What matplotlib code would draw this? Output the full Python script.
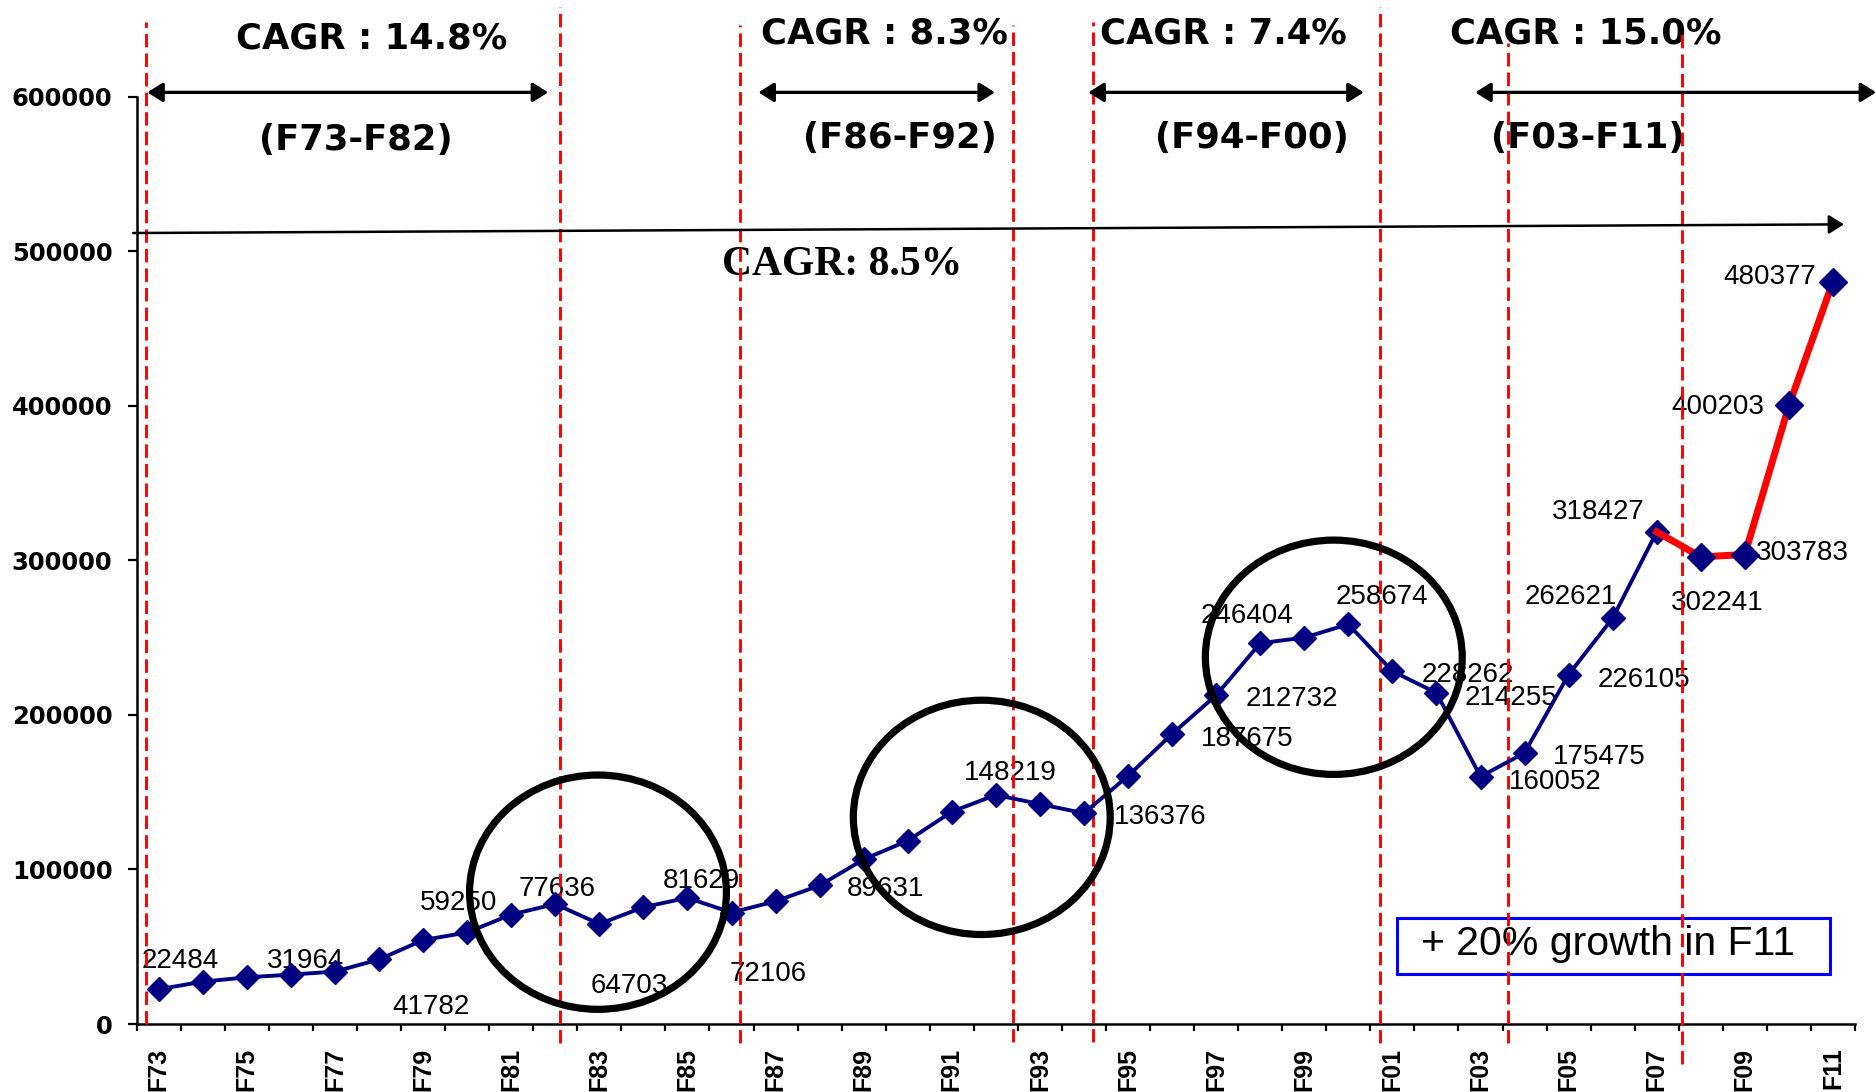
import matplotlib
matplotlib.use('Agg')
import matplotlib.pyplot as plt
from matplotlib.patches import Ellipse, Rectangle
import numpy as np

years = ['F73', 'F74', 'F75', 'F76', 'F77', 'F78', 'F79', 'F80', 'F81', 'F82',
         'F83', 'F84', 'F85', 'F86', 'F87', 'F88', 'F89', 'F90', 'F91', 'F92',
         'F93', 'F94', 'F95', 'F96', 'F97', 'F98', 'F99', 'F00', 'F01', 'F02',
         'F03', 'F04', 'F05', 'F06', 'F07', 'F08', 'F09', 'F10', 'F11']
sales = [22484, 27400, 30200, 31964, 33900, 41782, 54300, 59250, 70800, 77636,
         64703, 75600, 81629, 72106, 79400, 89631, 106500, 118600, 137400, 148219,
         142300, 136376, 160500, 187675, 212732, 246404, 250000, 258674, 228262, 214255,
         160052, 175475, 226105, 262621, 318427, 302241, 303783, 400203, 480377]

# which points get their number written next to them, and the shift in pixels
label_idx = [0, 3, 5, 7, 9, 10, 12, 13, 15, 19, 21, 23, 24, 25, 27, 28, 29,
             30, 31, 32, 33, 34, 35, 36, 37, 38]
label_off = [(22, 28), (15, 14), (52, -48), (-9, 29), (2, 15), (30, -62),
             (14, 17), (37, -61), (66, -4), (14, 22), (76, -4), (75, -5),
             (76, -4), (-13, 27), (34, 27), (75, -4), (75, -5), (75, -5),
             (75, -4), (75, -5), (-42, 21), (-58, 20), (16, -46), (57, 2),
             (-71, -2), (-63, 5)]

period_names = ['(F73-F82)', '(F86-F92)', '(F94-F00)', '(F03-F11)']
period_cagr = ['CAGR : 14.8%', 'CAGR : 8.3%', 'CAGR : 7.4%', 'CAGR : 15.0%']
overall_cagr = 'CAGR: 8.5%'
note = '+ 20% growth in F11'

# layout of the period markers
split_x = [-0.3, 9.1, 13.2, 19.4, 21.2, 27.73, 30.63, 34.58]
split_top = [648500, 658200, 646400, 646400, 648500, 658200, 634700, 641800]
split_bot = [0, -12000, -12000, -11400, -11400, -12000, -12000, -25700]
span_x = [(-0.26, 8.84), (13.61, 18.98), (21.1, 27.35), (29.88, 38.98)]
span_y = 602800
cagr_pos = [(4.83, 631300), (16.48, 634500), (24.16, 634500), (32.38, 634500)]
name_pos = [(4.48, 565500), (16.82, 566600), (24.80, 566600), (32.44, 566600)]
ring_xy = [(9.97, 85300), (18.68, 133700), (26.67, 237300)]

navy = '#000080'

fig = plt.figure(figsize=(18.76, 10.92), dpi=100)
ax = fig.add_axes([0.07287, 0.06227, 0.91594, 0.93773])
x = np.arange(len(years))

ax.plot(x[:35], sales[:35], color=navy, lw=2.8, marker='D', ms=12,
        mfc=navy, mec=navy, zorder=4)
ax.plot(x[34:], sales[34:], color='red', lw=5, zorder=4)
ax.plot(x[35:], sales[35:], ls='none', marker='D', ms=14, mfc=navy,
        mec=navy, zorder=5)

for i, (dx, dy) in zip(label_idx, label_off):
    ax.annotate(str(sales[i]), (x[i], sales[i]), xytext=(dx, dy),
                textcoords='offset pixels', ha='center', va='center',
                fontsize=20, family='Liberation Sans', zorder=3)

# period boundaries
for sx, top, bot in zip(split_x, split_top, split_bot):
    ax.plot([sx, sx], [bot, top], color='red', lw=2.1, ls=(0, (4.6, 2.1)),
            clip_on=False, zorder=3.5)

for (x0, x1), name, cagr, npos, cpos in zip(span_x, period_names, period_cagr,
                                            name_pos, cagr_pos):
    ax.annotate('', xy=(x1, span_y), xytext=(x0, span_y),
                arrowprops=dict(arrowstyle='<|-|>,head_length=0.4,head_width=0.25',
                                color='black', lw=2.4, mutation_scale=23,
                                shrinkA=0, shrinkB=0),
                annotation_clip=False, zorder=3.6)
    ax.text(*cpos, cagr, ha='center', va='baseline', fontsize=25.5,
            fontweight='bold', family='DejaVu Sans')
    ax.text(*npos, name, ha='center', va='baseline', fontsize=25.5,
            fontweight='bold', family='DejaVu Sans')

# whole-period trend arrow
ax.annotate('', xy=(38.25, 517400), xytext=(-0.58, 511800),
            arrowprops=dict(arrowstyle='-|>,head_length=0.4,head_width=0.25',
                            color='black', lw=1.8, mutation_scale=23,
                            shrinkA=0, shrinkB=0),
            annotation_clip=False, zorder=3.6)
ax.text(15.5, 484600, overall_cagr, ha='center', va='baseline', fontsize=30,
        fontweight='bold', family='Liberation Serif')

for cx, cy in ring_xy:
    ax.add_patch(Ellipse((cx, cy), 5.83, 151600, fill=False, ec='black',
                         lw=5.2, clip_on=False, zorder=5))

ax.add_patch(Rectangle((28.10, 32300), 9.83, 36100, fill=False, ec='#0000FF',
                       lw=2.2, clip_on=False, zorder=3))
ax.text(32.89, 44600, note, ha='center', va='baseline', fontsize=29.5,
        family='Liberation Sans')

ax.set_xlim(-0.5, len(years) - 0.5)
ax.set_ylim(0, 662570)
ax.spines['top'].set_visible(False)
ax.spines['right'].set_visible(False)
ax.spines['left'].set_bounds(0, 600000)
for s in ('left', 'bottom'):
    ax.spines[s].set_linewidth(1.8)

ax.set_xticks(x[::2])
ax.set_xticklabels(years[::2], rotation=90, fontsize=18, fontweight='bold',
                   family='Liberation Sans')
ax.set_xticks(np.arange(-0.5, len(years)), minor=True)
ax.tick_params(axis='x', which='major', length=0, pad=17)
ax.tick_params(axis='x', which='minor', length=4.7, width=1.6, direction='out')

yt = list(range(0, 600001, 100000))
ax.set_yticks(yt)
ax.set_yticklabels([str(v) for v in yt], fontsize=17.5, fontweight='bold',
                   family='DejaVu Sans')
ax.tick_params(axis='y', length=6.5, width=1.6, pad=11)

fig.savefig('out.png', dpi=100)
